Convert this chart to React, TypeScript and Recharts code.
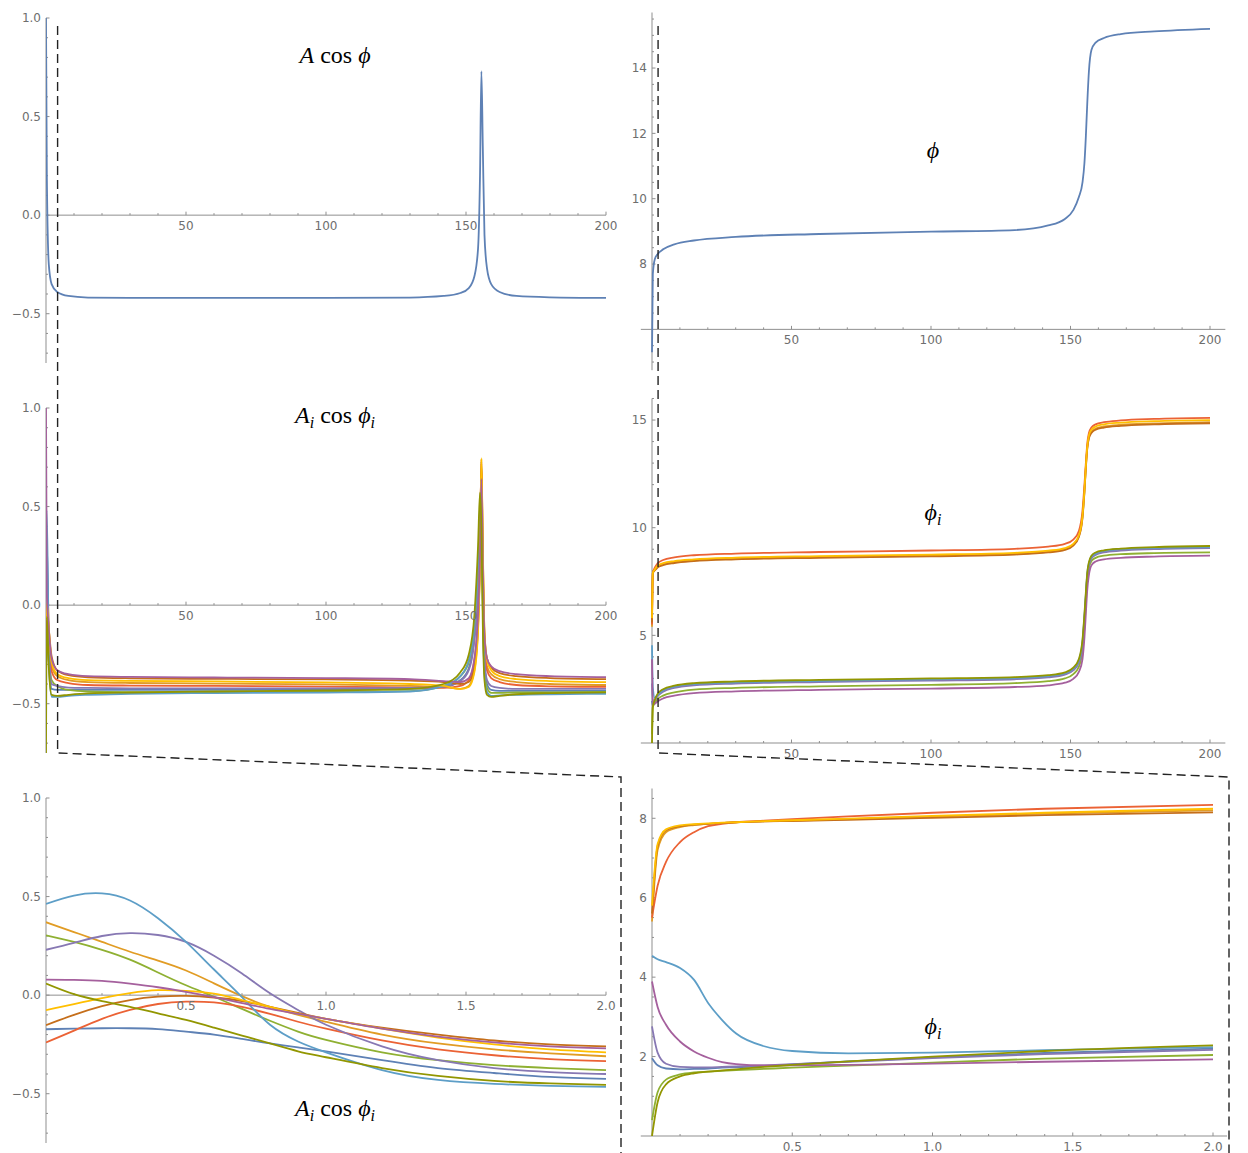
import React from 'react';
import { LineChart, Line, XAxis, YAxis, ReferenceLine, ReferenceDot } from 'recharts';

// Mathematica default palette (ColorData 97), oscillators 1..10
const palette = ['#5E81B5', '#E19C24', '#8FB032', '#EB6235', '#8778B3', '#C56E1A', '#5D9EC7', '#FFBF00', '#A5609D', '#929600'];

// sample times for the long runs, 0..200
const tLong = [0, 0.3, 1, 2, 4, 8, 15, 30, 60, 100, 130, 142, 148, 151, 153, 154.3, 155, 155.5, 156, 156.6, 157.5, 159, 162, 168, 180, 200];

// mean field: A cos(phi) and phi
const aCosPhi = [1.0, 0.2, -0.25, -0.35, -0.39, -0.41, -0.418, -0.42, -0.42, -0.42, -0.418, -0.41, -0.395, -0.37, -0.31, -0.17, 0.2, 0.73, 0.35, -0.1, -0.27, -0.35, -0.39, -0.41, -0.417, -0.42];
const phiMean = [5.3, 7.7, 8.15, 8.3, 8.45, 8.6, 8.72, 8.83, 8.92, 8.99, 9.04, 9.18, 9.38, 9.65, 10.05, 10.5, 11.1, 11.9, 12.9, 13.9, 14.55, 14.78, 14.92, 15.04, 15.12, 15.2];

// A_i cos(phi_i), long run
const ac1 = [-0.173, -0.168, -0.285, -0.425, -0.43, -0.43, -0.43, -0.43, -0.43, -0.428, -0.425, -0.415, -0.38, -0.32, -0.16, 0.1, 0.4, 0.6, 0.05, -0.3, -0.4, -0.43, -0.435, -0.435, -0.435, -0.435];
const ac2 = [0.37, 0.22, -0.135, -0.31, -0.36, -0.38, -0.39, -0.395, -0.398, -0.402, -0.41, -0.415, -0.425, -0.41, -0.33, -0.12, 0.25, 0.74, 0.25, -0.17, -0.31, -0.35, -0.375, -0.39, -0.4, -0.405];
const ac3 = [0.303, 0.18, -0.227, -0.38, -0.41, -0.43, -0.438, -0.441, -0.442, -0.44, -0.436, -0.41, -0.36, -0.29, -0.12, 0.15, 0.45, 0.58, 0.0, -0.33, -0.42, -0.445, -0.445, -0.443, -0.442, -0.44];
const ac4 = [-0.24, -0.075, -0.17, -0.335, -0.38, -0.395, -0.405, -0.408, -0.41, -0.413, -0.418, -0.42, -0.41, -0.38, -0.28, -0.05, 0.3, 0.72, 0.2, -0.2, -0.33, -0.37, -0.39, -0.405, -0.412, -0.415];
const ac5 = [0.23, 0.315, -0.15, -0.4, -0.41, -0.418, -0.42, -0.422, -0.422, -0.422, -0.42, -0.415, -0.385, -0.33, -0.18, 0.05, 0.35, 0.62, 0.1, -0.27, -0.38, -0.41, -0.42, -0.425, -0.425, -0.425];
const ac6 = [-0.152, -0.025, -0.12, -0.26, -0.33, -0.355, -0.366, -0.371, -0.374, -0.377, -0.383, -0.39, -0.4, -0.39, -0.31, -0.1, 0.25, 0.73, 0.28, -0.14, -0.27, -0.315, -0.345, -0.36, -0.37, -0.375];
const ac7 = [0.463, 0.48, -0.29, -0.465, -0.465, -0.46, -0.455, -0.45, -0.446, -0.443, -0.438, -0.41, -0.36, -0.28, -0.1, 0.2, 0.5, 0.6, 0.0, -0.35, -0.44, -0.46, -0.458, -0.455, -0.452, -0.45];
const ac8 = [-0.076, 0.01, -0.12, -0.29, -0.35, -0.37, -0.38, -0.384, -0.387, -0.392, -0.4, -0.41, -0.425, -0.415, -0.34, -0.13, 0.22, 0.745, 0.3, -0.14, -0.28, -0.33, -0.36, -0.375, -0.385, -0.39];
const ac9 = [1.0, 0.058, -0.12, -0.27, -0.33, -0.35, -0.36, -0.364, -0.367, -0.37, -0.375, -0.385, -0.39, -0.37, -0.27, -0.05, 0.25, 0.64, 0.2, -0.16, -0.27, -0.31, -0.335, -0.35, -0.36, -0.365];
const ac10 = [-0.75, -0.059, -0.315, -0.455, -0.46, -0.455, -0.448, -0.443, -0.438, -0.433, -0.425, -0.4, -0.34, -0.25, -0.05, 0.3, 0.57, 0.4, -0.1, -0.38, -0.455, -0.465, -0.46, -0.452, -0.446, -0.442];

// phi_i, long run
const ph1 = [1.96, 1.73, 1.98, 2.2, 2.42, 2.6, 2.72, 2.8, 2.87, 2.94, 3.0, 3.09, 3.22, 3.42, 3.8, 4.6, 5.8, 6.8, 7.75, 8.3, 8.62, 8.78, 8.9, 8.98, 9.05, 9.1];
const ph2 = [5.4, 7.9, 8.04, 8.2, 8.3, 8.4, 8.48, 8.56, 8.63, 8.7, 8.78, 8.88, 9.0, 9.2, 9.6, 10.5, 11.7, 12.8, 13.7, 14.2, 14.45, 14.6, 14.7, 14.78, 14.84, 14.9];
const ph3 = [0.4, 1.66, 1.85, 2.04, 2.2, 2.35, 2.48, 2.56, 2.63, 2.7, 2.78, 2.87, 3.0, 3.2, 3.55, 4.3, 5.4, 6.5, 7.5, 8.1, 8.45, 8.6, 8.7, 8.77, 8.82, 8.85];
const ph4 = [5.5, 7.9, 8.14, 8.34, 8.5, 8.62, 8.72, 8.8, 8.87, 8.94, 9.02, 9.12, 9.25, 9.45, 9.85, 10.8, 12.0, 13.0, 13.9, 14.4, 14.65, 14.8, 14.9, 14.98, 15.05, 15.1];
const ph5 = [2.76, 1.75, 1.96, 2.17, 2.38, 2.56, 2.68, 2.76, 2.83, 2.9, 2.96, 3.05, 3.18, 3.37, 3.74, 4.5, 5.7, 6.7, 7.7, 8.25, 8.57, 8.73, 8.85, 8.93, 9.0, 9.05];
const ph6 = [5.6, 7.9, 8.01, 8.15, 8.26, 8.36, 8.45, 8.53, 8.6, 8.67, 8.75, 8.85, 8.97, 9.17, 9.57, 10.45, 11.65, 12.75, 13.65, 14.15, 14.4, 14.55, 14.65, 14.73, 14.8, 14.85];
const ph7 = [4.54, 2.58, 2.1, 2.24, 2.45, 2.62, 2.74, 2.82, 2.89, 2.96, 3.02, 3.11, 3.24, 3.45, 3.84, 4.7, 5.9, 6.9, 7.85, 8.35, 8.65, 8.8, 8.92, 9.0, 9.06, 9.1];
const ph8 = [5.8, 7.9, 8.06, 8.24, 8.35, 8.45, 8.53, 8.61, 8.68, 8.75, 8.83, 8.93, 9.05, 9.25, 9.65, 10.55, 11.75, 12.85, 13.75, 14.28, 14.55, 14.7, 14.8, 14.88, 14.95, 15.0];
const ph9 = [3.89, 1.81, 1.82, 1.93, 2.07, 2.2, 2.32, 2.4, 2.47, 2.53, 2.6, 2.68, 2.8, 2.98, 3.3, 3.9, 4.9, 6.0, 7.1, 7.8, 8.25, 8.43, 8.53, 8.6, 8.66, 8.7];
const ph10 = [0.0, 1.68, 2.0, 2.28, 2.5, 2.66, 2.78, 2.86, 2.93, 3.0, 3.06, 3.15, 3.28, 3.5, 3.9, 4.8, 6.0, 7.0, 7.9, 8.4, 8.7, 8.85, 8.95, 9.03, 9.1, 9.15];

// zoom on 0..2, A_i cos(phi_i)
const tZoomA = [0, 0.1, 0.2, 0.3, 0.4, 0.5, 0.6, 0.7, 0.8, 0.9, 1.0, 1.2, 1.4, 1.6, 1.8, 2.0];
const za1 = [-0.173, -0.17, -0.168, -0.168, -0.172, -0.185, -0.2, -0.222, -0.245, -0.265, -0.285, -0.33, -0.37, -0.395, -0.415, -0.425];
const za2 = [0.37, 0.32, 0.27, 0.22, 0.175, 0.125, 0.06, -0.005, -0.06, -0.1, -0.135, -0.2, -0.245, -0.275, -0.295, -0.31];
const za3 = [0.303, 0.27, 0.23, 0.18, 0.115, 0.05, -0.008, -0.07, -0.13, -0.185, -0.227, -0.29, -0.33, -0.355, -0.37, -0.38];
const za4 = [-0.24, -0.18, -0.12, -0.075, -0.045, -0.033, -0.037, -0.06, -0.095, -0.135, -0.17, -0.23, -0.275, -0.305, -0.325, -0.335];
const za5 = [0.23, 0.265, 0.3, 0.315, 0.305, 0.27, 0.2, 0.11, 0.01, -0.075, -0.15, -0.26, -0.33, -0.37, -0.39, -0.4];
const za6 = [-0.152, -0.1, -0.056, -0.025, -0.008, -0.004, -0.012, -0.03, -0.06, -0.09, -0.12, -0.165, -0.2, -0.23, -0.25, -0.26];
const za7 = [0.463, 0.505, 0.516, 0.48, 0.39, 0.27, 0.13, -0.01, -0.15, -0.235, -0.29, -0.38, -0.43, -0.45, -0.46, -0.465];
const za8 = [-0.076, -0.045, -0.015, 0.01, 0.025, 0.022, 0.008, -0.025, -0.06, -0.095, -0.12, -0.17, -0.215, -0.25, -0.275, -0.29];
const za9 = [0.079, 0.077, 0.072, 0.058, 0.04, 0.017, -0.01, -0.04, -0.07, -0.095, -0.12, -0.17, -0.21, -0.24, -0.26, -0.27];
const za10 = [0.059, 0.005, -0.03, -0.059, -0.092, -0.126, -0.165, -0.205, -0.245, -0.285, -0.315, -0.37, -0.41, -0.435, -0.448, -0.455];

// zoom on 0..2, phi_i
const tZoomP = [0, 0.02, 0.05, 0.1, 0.15, 0.2, 0.25, 0.3, 0.4, 0.5, 0.7, 1.0, 1.4, 2.0];
const zp1 = [1.96, 1.78, 1.7, 1.68, 1.69, 1.7, 1.72, 1.73, 1.76, 1.8, 1.88, 1.98, 2.09, 2.2];
const zp2 = [5.4, 7.2, 7.65, 7.78, 7.83, 7.86, 7.88, 7.9, 7.92, 7.94, 7.98, 8.04, 8.12, 8.2];
const zp3 = [0.4, 1.1, 1.42, 1.55, 1.6, 1.62, 1.64, 1.66, 1.69, 1.72, 1.77, 1.85, 1.95, 2.04];
const zp4 = [5.5, 6.3, 6.9, 7.4, 7.65, 7.8, 7.86, 7.9, 7.94, 7.98, 8.05, 8.14, 8.24, 8.34];
const zp5 = [2.76, 2.1, 1.82, 1.74, 1.73, 1.73, 1.74, 1.75, 1.78, 1.81, 1.87, 1.96, 2.06, 2.17];
const zp6 = [5.6, 7.3, 7.7, 7.8, 7.84, 7.86, 7.88, 7.9, 7.92, 7.93, 7.96, 8.01, 8.08, 8.15];
const zp7 = [4.54, 4.45, 4.38, 4.23, 3.93, 3.35, 2.92, 2.58, 2.26, 2.14, 2.08, 2.1, 2.16, 2.24];
const zp8 = [5.8, 7.35, 7.72, 7.82, 7.85, 7.87, 7.89, 7.9, 7.93, 7.95, 7.99, 8.06, 8.14, 8.24];
const zp9 = [3.89, 3.25, 2.8, 2.38, 2.13, 1.97, 1.86, 1.81, 1.78, 1.78, 1.79, 1.82, 1.87, 1.93];
const zp10 = [0.0, 0.85, 1.3, 1.5, 1.58, 1.62, 1.65, 1.68, 1.74, 1.79, 1.88, 2.0, 2.14, 2.28];

// tick labels
const longTicks = [50, 100, 150, 200];
const longTickLabels = ['50', '100', '150', '200'];
const zoomTicks = [0.5, 1, 1.5, 2];
const zoomTickLabels = ['0.5', '1.0', '1.5', '2.0'];
const ampTicks = [-0.5, 0, 0.5, 1];
const ampTickLabels = ['\u22120.5', '0.0', '0.5', '1.0'];
const phiTicks = [8, 10, 12, 14];
const phiTickLabels = ['8', '10', '12', '14'];
const phiITicks = [5, 10, 15];
const phiITickLabels = ['5', '10', '15'];
const phiZTicks = [2, 4, 6, 8];
const phiZTickLabels = ['2', '4', '6', '8'];

const axisGray = '#8f8f8f';
const labelGray = '#6e6e6e';
const tickFont = "'DejaVu Sans', sans-serif";
const serif = "'Liberation Serif', 'DejaVu Serif', serif";

function toRows(xs: number[], series: number[][]) {
  return xs.map((x, i) => {
    const r: any = { x };
    series.forEach((s, k) => { r['s' + k] = s[i]; });
    return r;
  });
}

function steps(a: number, b: number, d: number, skip: number[]) {
  const out: number[] = [];
  for (let v = a; v <= b + 1e-9; v += d) {
    const r = Math.round(v * 1000) / 1000;
    if (!skip.some((s) => Math.abs(s - r) < 1e-6)) out.push(r);
  }
  return out;
}

type PanelProps = {
  left: number; top: number; width: number; height: number;
  plot: [number, number, number, number];
  xDomain: [number, number]; yDomain: [number, number];
  xAxisAt: number;
  xTicks: number[]; xLabels: string[]; xMinor: number[];
  yTicks: number[]; yLabels: string[]; yMinor: number[];
  data: any[]; colors: string[];
  curve?: 'monotone' | 'natural';
};

function Panel(p: PanelProps) {
  const [px0, py0, px1, py1] = p.plot;
  const margin = { left: px0 - p.left, top: py0 - p.top, right: p.left + p.width - px1, bottom: p.top + p.height - py1 };
  const kx = (px1 - px0) / (p.xDomain[1] - p.xDomain[0]);
  const ky = (py1 - py0) / (p.yDomain[1] - p.yDomain[0]);
  const major = 3.5;
  const minor = 2;
  const y0 = p.xAxisAt;

  const refs: any[] = [];
  refs.push(<ReferenceLine key="ya" segment={[{ x: 0, y: p.yDomain[0] }, { x: 0, y: p.yDomain[1] }]} stroke={axisGray} ifOverflow="visible" />);
  refs.push(<ReferenceLine key="xa" segment={[{ x: p.xDomain[0], y: y0 }, { x: p.xDomain[1], y: y0 }]} stroke={axisGray} ifOverflow="visible" />);
  p.xTicks.forEach((v) => refs.push(<ReferenceLine key={'xt' + v} segment={[{ x: v, y: y0 }, { x: v, y: y0 + major / ky }]} stroke={axisGray} ifOverflow="visible" />));
  p.xMinor.forEach((v) => refs.push(<ReferenceLine key={'xm' + v} segment={[{ x: v, y: y0 }, { x: v, y: y0 + minor / ky }]} stroke={axisGray} ifOverflow="visible" />));
  p.yTicks.forEach((v) => refs.push(<ReferenceLine key={'yt' + v} segment={[{ x: 0, y: v }, { x: major / kx, y: v }]} stroke={axisGray} ifOverflow="visible" />));
  p.yMinor.forEach((v) => refs.push(<ReferenceLine key={'ym' + v} segment={[{ x: 0, y: v }, { x: minor / kx, y: v }]} stroke={axisGray} ifOverflow="visible" />));
  p.xTicks.forEach((v, i) => refs.push(
    <ReferenceDot key={'xl' + v} x={v} y={y0} r={0} fill="none" stroke="none" ifOverflow="visible"
      label={{ value: p.xLabels[i], position: 'bottom', offset: 6, fill: labelGray, fontSize: 12, fontFamily: tickFont }} />
  ));
  p.yTicks.forEach((v, i) => refs.push(
    <ReferenceDot key={'yl' + v} x={0} y={v} r={0} fill="none" stroke="none" ifOverflow="visible"
      label={{ value: p.yLabels[i], position: 'left', offset: 5, fill: labelGray, fontSize: 12, fontFamily: tickFont }} />
  ));

  return (
    <div style={{ position: 'absolute', left: p.left, top: p.top, width: p.width, height: p.height }}>
      <LineChart width={p.width} height={p.height} data={p.data} margin={margin}>
        <XAxis type="number" dataKey="x" domain={p.xDomain} allowDataOverflow hide />
        <YAxis type="number" domain={p.yDomain} allowDataOverflow hide />
        {refs}
        {p.colors.map((c, k) => (
          <Line key={'s' + k} type={p.curve || 'monotone'} dataKey={'s' + k} stroke={c} strokeWidth={1.8}
            dot={false} activeDot={false} isAnimationActive={false} />
        ))}
      </LineChart>
    </div>
  );
}

const longMinor = steps(10, 190, 10, [50, 100, 150]);
const zoomMinor = steps(0.1, 1.9, 0.1, [0.5, 1, 1.5]);
const ampMinor = steps(-0.7, 0.9, 0.1, [-0.5, 0, 0.5]);

// page geometry of the plot areas
const leftX0 = 46;
const leftX1 = 606;
const rightK = 558 / 200;
const rightX0 = 652 - 4 * rightK;
const rightX1 = 652 + 205.5 * rightK;
const zoomK = 280.5;

function Title({ x, y, sub, body }: { x: number; y: number; sub: boolean; body: 'acos' | 'phi' }) {
  return (
    <text x={x} y={y} textAnchor="middle" fontFamily={serif} fontSize={24} fill="#000">
      {body === 'acos' ? <tspan fontStyle="italic">A</tspan> : null}
      {body === 'acos' && sub ? <tspan fontSize={16} dy={5} fontStyle="italic">i</tspan> : null}
      {body === 'acos' ? <tspan dy={sub ? -5 : 0}>{'\u00a0cos\u00a0'}</tspan> : null}
      <tspan fontStyle="italic">{'\u03d5'}</tspan>
      {sub ? <tspan fontSize={16} dy={5} fontStyle="italic">i</tspan> : null}
    </text>
  );
}

export default function App() {
  const longA = toRows(tLong, [ac1, ac2, ac3, ac4, ac5, ac6, ac7, ac8, ac9, ac10]);
  const longP = toRows(tLong, [ph1, ph2, ph3, ph4, ph5, ph6, ph7, ph8, ph9, ph10]);
  const zoomA = toRows(tZoomA, [za1, za2, za3, za4, za5, za6, za7, za8, za9, za10]);
  const zoomP = toRows(tZoomP, [zp1, zp2, zp3, zp4, zp5, zp6, zp7, zp8, zp9, zp10]);
  const meanA = toRows(tLong, [aCosPhi]);
  const meanP = toRows(tLong, [phiMean]);

  const dashL = leftX0 + 2 * (leftX1 - leftX0) / 200 + 6;
  const dashR = 652 + 2 * rightK + 0.5;

  return (
    <div style={{ position: 'absolute', left: 0, top: 0, width: 1248, height: 1153, overflow: 'hidden', background: '#fff' }}>
      <Panel left={0} top={0} width={620} height={380} plot={[leftX0, 18, leftX1, 363]}
        xDomain={[0, 200]} yDomain={[-0.75, 1]} xAxisAt={0}
        xTicks={longTicks} xLabels={longTickLabels} xMinor={longMinor}
        yTicks={ampTicks} yLabels={ampTickLabels} yMinor={ampMinor}
        data={meanA} colors={[palette[0]]} />
      <Panel left={0} top={390} width={620} height={380} plot={[leftX0, 408, leftX1, 753]}
        xDomain={[0, 200]} yDomain={[-0.75, 1]} xAxisAt={0}
        xTicks={longTicks} xLabels={longTickLabels} xMinor={longMinor}
        yTicks={ampTicks} yLabels={ampTickLabels} yMinor={ampMinor}
        data={longA} colors={palette} />
      <Panel left={0} top={780} width={620} height={373} plot={[leftX0, 798, leftX1, 1143]}
        xDomain={[0, 2]} yDomain={[-0.75, 1]} xAxisAt={0}
        xTicks={zoomTicks} xLabels={zoomTickLabels} xMinor={zoomMinor}
        yTicks={ampTicks} yLabels={ampTickLabels} yMinor={ampMinor}
        data={zoomA} colors={palette} curve="natural" />

      <Panel left={624} top={0} width={624} height={385} plot={[rightX0, 12.5, rightX1, 370.2]}
        xDomain={[-4, 205.5]} yDomain={[4.75, 15.7]} xAxisAt={6}
        xTicks={longTicks} xLabels={longTickLabels} xMinor={longMinor}
        yTicks={phiTicks} yLabels={phiTickLabels} yMinor={steps(5, 15.5, 0.5, [6, 8, 10, 12, 14])}
        data={meanP} colors={[palette[0]]} />
      <Panel left={624} top={390} width={624} height={385} plot={[rightX0, 398.5, rightX1, 743]}
        xDomain={[-4, 205.5]} yDomain={[0, 16]} xAxisAt={0}
        xTicks={longTicks} xLabels={longTickLabels} xMinor={longMinor}
        yTicks={phiITicks} yLabels={phiITickLabels} yMinor={steps(1, 16, 1, [5, 10, 15])}
        data={longP} colors={palette} />
      <Panel left={624} top={780} width={624} height={373} plot={[652 - 0.04 * zoomK, 788.5, 652 + 2.05 * zoomK, 1136]}
        xDomain={[-0.04, 2.05]} yDomain={[0, 8.75]} xAxisAt={0}
        xTicks={zoomTicks} xLabels={zoomTickLabels} xMinor={zoomMinor}
        yTicks={phiZTicks} yLabels={phiZTickLabels} yMinor={steps(0.5, 8.5, 0.5, [2, 4, 6, 8])}
        data={zoomP} colors={palette} />

      <svg width={1248} height={1153} style={{ position: 'absolute', left: 0, top: 0, pointerEvents: 'none' }}>
        <g fill="none" stroke="#222" strokeWidth={1.4} strokeDasharray="9 5">
          <polyline points={`${dashL},26 ${dashL},753 621,777 621,1153`} />
          <polyline points={`${dashR},26 ${dashR},753 1229,777 1229,1153`} />
        </g>
        <Title x={335} y={63} sub={false} body="acos" />
        <Title x={933} y={158} sub={false} body="phi" />
        <Title x={335} y={423} sub={true} body="acos" />
        <Title x={933} y={520} sub={true} body="phi" />
        <Title x={335} y={1116} sub={true} body="acos" />
        <Title x={933} y={1034} sub={true} body="phi" />
      </svg>
    </div>
  );
}
